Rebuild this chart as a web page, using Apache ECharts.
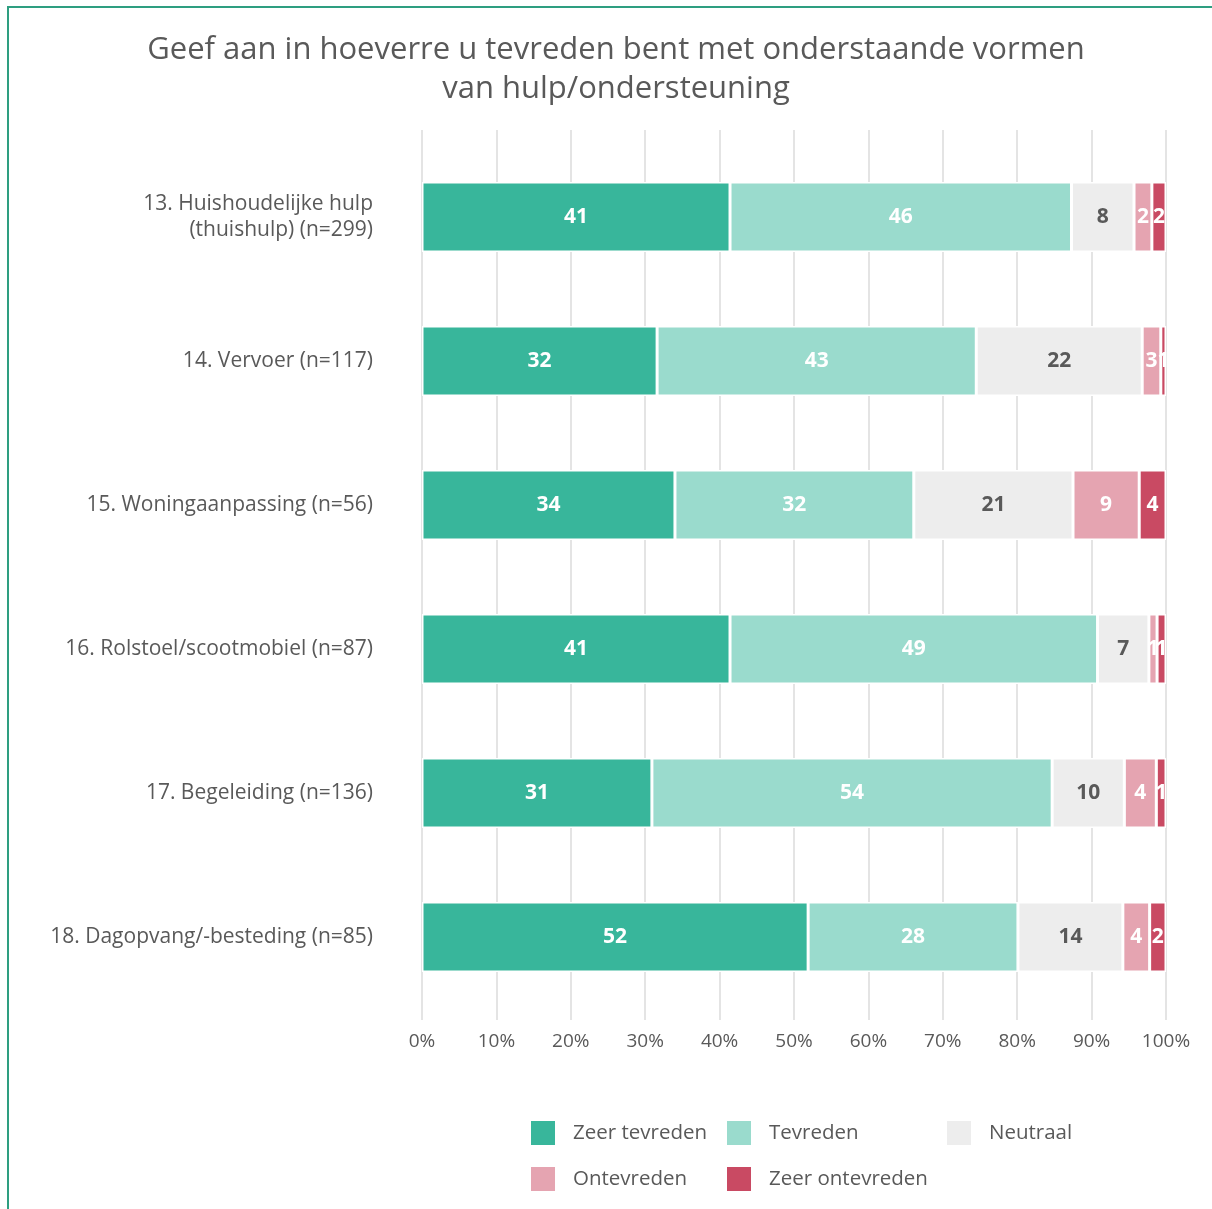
<!DOCTYPE html>
<html>
<head>
<meta charset="utf-8">
<script src="https://cdn.jsdelivr.net/npm/echarts@6/dist/echarts.min.js"></script>
<style>
  html, body { margin: 0; padding: 0; background: #fff; }
  #chart { width: 1212px; height: 1209px; }
</style>
</head>
<body>
<div id="chart"></div>
<script>
// categorieën (van boven naar beneden)
var categories = [
  '13. Huishoudelijke hulp\n(thuishulp) (n=299)',
  '14. Vervoer (n=117)',
  '15. Woningaanpassing (n=56)',
  '16. Rolstoel/scootmobiel (n=87)',
  '17. Begeleiding (n=136)',
  '18. Dagopvang/-besteding (n=85)'
];
var seriesNames = ['Zeer tevreden', 'Tevreden', 'Neutraal', 'Ontevreden', 'Zeer ontevreden'];
var colors = ['#38b69b', '#9adbcd', '#ededed', '#e5a4b1', '#c94a63'];
var labelColors = ['#fff', '#fff', '#595959', '#fff', '#fff'];

// percentages per reeks
var zeerTevreden   = [41.4, 31.6, 34.0, 41.4, 30.9, 51.9];
var tevreden       = [45.9, 42.9, 32.1, 49.4, 53.8, 28.2];
var neutraal       = [8.4, 22.3, 21.4, 6.9, 9.7, 14.1];
var ontevreden     = [2.4, 2.5, 8.9, 1.1, 4.3, 3.6];
var zeerOntevreden = [1.9, 0.7, 3.6, 1.2, 1.3, 2.2];
var values = [zeerTevreden, tevreden, neutraal, ontevreden, zeerOntevreden];

var xTicks = [0, 10, 20, 30, 40, 50, 60, 70, 80, 90, 100];

var font = 'Open Sans';
var chart = echarts.init(document.getElementById('chart'));

var series = seriesNames.map(function (name, i) {
  return {
    name: name,
    type: 'bar',
    stack: 'total',
    barWidth: 70,
    xAxisIndex: 0,
    yAxisIndex: 0,
    data: values[i],
    itemStyle: { color: colors[i], borderColor: '#fff', borderWidth: 1.5 },
    label: {
      show: true,
      position: 'inside',
      color: labelColors[i],
      fontFamily: font,
      fontWeight: 'bold',
      fontSize: 21,
      formatter: function (p) { return Math.round(p.value); }
    }
  };
});

chart.setOption({
  animation: false,
  backgroundColor: '#fff',
  textStyle: { fontFamily: font },
  title: {
    text: 'Geef aan in hoeverre u tevreden bent met onderstaande vormen\nvan hulp/ondersteuning',
    left: 611,
    top: 26,
    textAlign: 'center',
    textStyle: { color: '#595959', fontSize: 31, fontWeight: 'normal', fontFamily: font, lineHeight: 39 }
  },
  graphic: [{
    type: 'rect',
    shape: { x: 8, y: 7, width: 1400, height: 1400 },
    style: { fill: 'none', stroke: '#2e9e80', lineWidth: 2 },
    silent: true
  }],
  legend: [
    { data: ['Zeer tevreden', 'Ontevreden'], left: 524, top: 1114 },
    { data: ['Tevreden', 'Zeer ontevreden'], left: 720, top: 1114 },
    { data: ['Neutraal'], left: 940, top: 1114 }
  ].map(function (l) {
    return Object.assign({
      orient: 'vertical',
      itemWidth: 26,
      itemHeight: 26,
      itemGap: 18,
      icon: 'rect',
      textStyle: { color: '#595959', fontSize: 20.5, fontFamily: font, padding: [0, 0, 0, 12] }
    }, l);
  }),
  grid: [
    { left: 422, right: 46, top: 145, bottom: 200 },
    { left: 422, right: 46, top: 130, bottom: 189 }
  ],
  xAxis: [
    { type: 'value', gridIndex: 0, min: 0, max: 100, interval: 10, show: false },
    {
      type: 'value', gridIndex: 1, min: 0, max: 100, interval: 10,
      axisLine: { show: false }, axisTick: { show: false },
      splitLine: { show: true, lineStyle: { color: '#e4e4e4', width: 2 } },
      axisLabel: {
        color: '#595959', fontSize: 19, fontFamily: font, margin: 12,
        formatter: function (v) { return xTicks.indexOf(v) >= 0 ? v + '%' : ''; }
      }
    }
  ],
  yAxis: [
    {
      type: 'category', gridIndex: 0, inverse: true, data: categories,
      axisLine: { show: false }, axisTick: { show: false },
      axisLabel: { color: '#595959', fontSize: 21, fontFamily: font, margin: 49, align: 'right', lineHeight: 26 }
    },
    { type: 'value', gridIndex: 1, show: false }
  ],
  series: series.concat([{
    type: 'bar', xAxisIndex: 1, yAxisIndex: 1, data: [], silent: true
  }])
});
</script>
</body>
</html>
